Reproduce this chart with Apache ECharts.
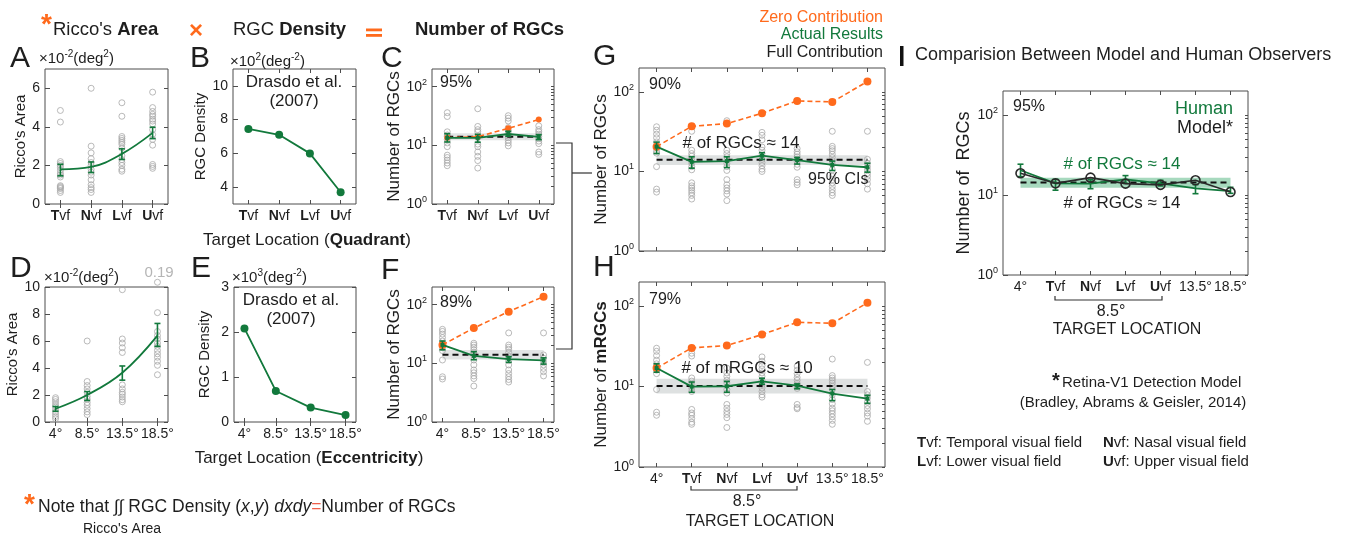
<!DOCTYPE html>
<html><head><meta charset="utf-8">
<script src="https://cdn.jsdelivr.net/npm/echarts@6/dist/echarts.min.js"></script>
<style>html,body{margin:0;padding:0;background:#fff;}#c{width:1354px;height:536px;}</style>
</head><body><div id="c"></div><script>
// ---------- categories / ticks ----------
const quadLabels = ['Tvf', 'Nvf', 'Lvf', 'Uvf'];
const quadX = [1, 2, 3, 4];
const eccX = [4, 8.5, 13.5, 18.5];
const locLabels = ['4°', 'Tvf', 'Nvf', 'Lvf', 'Uvf', '13.5°', '18.5°'];
const locX = [1, 2, 3, 4, 5, 6, 7];
const logMajor = [1, 10, 100];
const logMinor = [2, 3, 4, 5, 6, 7, 8, 9, 20, 30, 40, 50, 60, 70, 80, 90];

// ---------- Panel A: Ricco's area by quadrant ----------
const aMean = [1.8, 1.92, 2.6, 3.69];
const aLo = [1.46, 1.63, 2.31, 3.39];
const aHi = [2.06, 2.18, 2.86, 3.98];
const aPts = [
  [4.85, 4.25, 2.2, 2.1, 2.0, 1.9, 1.75, 1.6, 1.5, 1.4, 0.95, 0.9, 0.85, 0.8, 0.7, 0.6],
  [6.0, 3.0, 2.65, 2.35, 2.15, 2.0, 1.8, 1.65, 1.5, 1.25, 1.0, 0.85, 0.75, 0.6],
  [5.25, 4.55, 3.5, 3.4, 3.3, 3.2, 3.1, 2.9, 2.5, 2.3, 2.15, 2.0, 1.8, 1.7],
  [5.8, 5.0, 4.8, 4.65, 4.55, 4.4, 4.3, 4.15, 3.85, 3.6, 3.35, 3.05, 2.05, 1.95, 1.85]
];
// ---------- Panel B: RGC density by quadrant ----------
const bDensity = [7.45, 7.1, 6.0, 3.7];
// ---------- Panel C ----------
const cMean = [13.4, 13.4, 15.6, 13.9];
const cLo = [11.4, 11.3, 14.3, 12.5];
const cHi = [15.8, 15.4, 17.4, 15.2];
const cZero = [13.5, 14, 19.5, 27.5];
const cFull = 14;
const cBand = [12.2, 16];
const cPts = [
  [36, 31, 17, 15, 14, 12.5, 11, 9.5, 6.8, 6.2, 5.6, 5, 4.5],
  [42, 21, 18.5, 17, 13.5, 10.5, 9.5, 7.7, 6.5, 5.5, 4.1],
  [32, 29, 26, 20, 18, 16, 14.5, 13.5, 12.2, 11, 9.8],
  [21.5, 18.5, 17, 15.5, 14.2, 13, 11.8, 10.7, 7.7, 7]
];
// ---------- Panel D: Ricco's area by eccentricity ----------
const dMean = [0.98, 2.0, 3.65, 6.4];
const dLo = [0.8, 1.6, 3.1, 5.6];
const dHi = [1.15, 2.25, 4.15, 7.3];
const dPts = [
  [1.8, 1.67, 1.5, 1.3, 1.15, 0.95, 0.75, 0.57, 0.4, 0.25],
  [6.0, 3.0, 2.7, 2.45, 2.2, 1.9, 1.7, 1.45, 1.25, 1.0, 0.75, 0.55],
  [9.8, 6.15, 5.85, 5.5, 5.15, 2.75, 2.45, 2.2, 2.05, 1.85, 1.65, 1.5],
  [10.35, 8.1, 6.7, 6.4, 6.15, 5.85, 5.6, 5.3, 5.05, 4.8, 4.5, 4.2, 3.5]
];
// ---------- Panel E: RGC density by eccentricity ----------
const eDensity = [2.08, 0.69, 0.32, 0.155];
// ---------- Panel F ----------
const fMean = [20.6, 13.4, 11.8, 11.2];
const fLo = [17, 11.5, 10.4, 9.7];
const fHi = [24, 15.8, 13, 12.4];
const fZero = [20.6, 40, 76, 137];
const fFull = 14;
const fBand = [11.6, 16.8];
const fPts = [
  [38, 35, 31.5, 27.5, 24, 21, 18.5, 16.5, 11.4, 5.9, 5.4],
  [22, 20.5, 18.8, 17, 15.3, 13.7, 11.4, 9.4, 7.7, 6.9, 6.1, 5.5, 4.1],
  [33, 20.5, 18.8, 17.4, 15.3, 13.3, 11.1, 9.4, 7.7, 6.7, 5.9, 5.3, 4.8],
  [33, 13.9, 12.2, 10.7, 9.4, 8.2, 7.2, 6.1]
];
// ---------- Panel G ----------
const gMean = [20.5, 13.2, 13.5, 15.8, 13.9, 12.1, 11.3];
const gLo = [16.8, 11, 11.2, 14.2, 12.4, 10.3, 9.8];
const gHi = [23.4, 15.3, 15.3, 17.2, 15, 13.5, 12.7];
const gZero = [20.5, 37, 40, 54, 77, 75, 135];
const gFull = 14;
const gBand = [12.1, 16];
const gPts = [
  [36.5, 33, 29.5, 26.5, 23.5, 20.5, 18, 17, 11.5, 6, 5.5],
  [37, 32, 18.5, 16.8, 15.6, 13.9, 12.7, 11.5, 10.5, 7.2, 6.6, 6.2, 5.8, 5.4, 5, 4.5],
  [43.5, 40, 18.5, 16.8, 15.3, 13.9, 12.7, 11.5, 10.3, 7.9, 6.8, 6.2, 5.7, 5.2, 4.3],
  [31, 28.5, 25, 20.3, 18.5, 16.8, 15.3, 14.2, 12.9, 11.8, 10.7, 10],
  [19.4, 17.7, 16.5, 15.3, 14.2, 13.3, 12.3, 11.3, 7.9, 7.3, 6.8],
  [32, 20.7, 19.4, 18.2, 16.5, 15, 13.7, 12.4, 10.5, 8.7, 7.9, 7.2, 6.5, 5.9, 5.4, 5],
  [32, 14.2, 12.7, 11.5, 10.5, 9.5, 8.7, 7.9, 7, 6]
];
// ---------- Panel H ----------
const hMean = [17, 10, 10.1, 11.6, 10.3, 8.2, 7.1];
const hLo = [15.1, 8.5, 8.5, 10.7, 9.4, 6.7, 6.2];
const hHi = [19.2, 11.4, 11.6, 12.7, 10.8, 9.2, 7.8];
const hZero = [17, 30.3, 32.4, 44.4, 63, 61.4, 110];
const hFull = 10.2;
const hBand = [8.2, 12.5];
const hPts = [
  [30, 27.5, 24.3, 21.3, 19.2, 17.6, 16, 14.5, 9.2, 4.8, 4.4],
  [26, 24, 12.8, 11.7, 10.6, 9.6, 8.7, 5.2, 4.7, 4.4, 4, 3.6, 3.4],
  [17, 14.8, 13.4, 12, 11.1, 9.2, 8.3, 6, 5.4, 4.9, 4.5, 4.1, 3.1],
  [23.4, 20.7, 18.3, 16.6, 14.8, 13.4, 12, 10.6, 9.6, 8.7, 7.9, 7.4],
  [18, 16, 14.5, 13, 12, 11, 10.5, 10, 9.5, 6, 5.5, 5.3],
  [22, 13.7, 12.8, 12, 11.1, 10.1, 9.2, 7.9, 6.9, 6.1, 5.4, 5, 4.6, 4.2, 3.8, 3.4],
  [20, 8.7, 7.9, 7.2, 6.4, 5.8, 5.3, 4.7, 4.3, 3.7]
];
// ---------- Panel I ----------
const iHuman = [20.4, 14, 13.9, 15.7, 14, 12.1, 11.2];
const iHumanLo = [17, 11.5, 12, 14, 13, 10.4, 10.5];
const iHumanHi = [24.3, 15.7, 15.5, 17.5, 15.3, 13.5, 12.5];
const iModel = [18.7, 14, 16.5, 13.9, 13.4, 15.3, 10.9];
const iFull = 14.3;
const iBand = [12.3, 16.5];

// ---------- styling ----------
const FONT = '"Liberation Sans", Arial, Helvetica, sans-serif';
const TXT = '#1e1e1e', AX = '#4d4d4d', GREEN = '#12793c', ORANGE = '#ff6a1c', PT = '#a9a9a9';

function axisRich(size) {
  return {
    b: {fontSize: size, fontFamily: FONT, fontWeight: 'bold', color: TXT},
    s: {fontSize: Math.round(size * 0.65), fontFamily: FONT, color: TXT, verticalAlign: 'top'}
  };
}
function gRich(size, color) {
  const sub = Math.round(size * 0.65);
  return {
    b: {fontSize: size, fontFamily: FONT, fontWeight: 'bold', fill: color},
    s: {fontSize: sub, fontFamily: FONT, fill: color, verticalAlign: 'top'},
    i: {fontSize: size, fontFamily: FONT, fontStyle: 'italic', fill: color},
    r: {fontSize: size, fontFamily: FONT, fill: '#f0604a'},
    k: {fontSize: Math.round(size * 0.8), fontFamily: FONT, fill: color}
  };
}
const boldFirst = s => /vf$/.test(s) ? '{b|' + s[0] + '}' + s.slice(1) : s;
const catFmt = labels => v => { const l = labels[Math.round(v) - 1]; return l ? boldFirst(l) : ''; };
const degFmt = v => v + '°';
const logFmt = v => '10{s|' + Math.round(Math.log10(v)) + '}';

const grids = [], xAxes = [], yAxes = [], series = [];

function panel(p) {
  const gi = grids.length;
  grids.push({left: p.box[0], top: p.box[1], width: p.box[2], height: p.box[3], show: true,
    borderColor: AX, borderWidth: 1, backgroundColor: 'rgba(0,0,0,0)'});
  const xb = {gridIndex: gi, type: 'value', min: p.x[0], max: p.x[1], axisLine: {show: false}, splitLine: {show: false}};
  xAxes.push(Object.assign({}, xb, {position: 'bottom',
    axisTick: {show: true, inside: true, length: 4, lineStyle: {color: AX}, customValues: p.xt},
    axisLabel: {show: !p.noXLabel, customValues: p.xt, formatter: p.xf, fontSize: 14, fontFamily: FONT,
      color: TXT, margin: 5, rich: axisRich(14)}}));
  xAxes.push(Object.assign({}, xb, {position: 'top',
    axisTick: {show: true, inside: true, length: 4, lineStyle: {color: AX}, customValues: p.xt},
    axisLabel: {show: false}}));
  const yb = {gridIndex: gi, type: p.log ? 'log' : 'value', min: p.y[0], max: p.y[1],
    axisLine: {show: false}, splitLine: {show: false}};
  if (p.log) yb.logBase = 10;
  const ns = p.nameSize || 15;
  yAxes.push(Object.assign({}, yb, {position: 'left', name: p.name, nameLocation: 'middle', nameGap: p.gap,
    nameRotate: 90,
    nameTextStyle: {fontSize: ns, fontFamily: FONT, color: TXT,
      rich: {b: {fontSize: ns, fontFamily: FONT, fontWeight: 'bold', color: TXT}}},
    axisTick: {show: true, inside: true, length: 5, lineStyle: {color: AX}, customValues: p.log ? logMajor : p.yt},
    axisLabel: {customValues: p.log ? logMajor : p.yt, formatter: p.log ? logFmt : undefined, fontSize: 14,
      fontFamily: FONT, color: TXT, margin: 5, lineHeight: p.log ? 18 : undefined, rich: axisRich(14)}}));
  yAxes.push(Object.assign({}, yb, {position: 'right',
    axisTick: {show: true, inside: true, length: p.log ? 3 : 4, lineStyle: {color: AX},
      customValues: p.log ? logMajor.concat(logMinor) : p.yt},
    axisLabel: {show: false}}));
  return gi * 2;
}

function sc(ax, xs, cols) {
  series.push({type: 'scatter', xAxisIndex: ax, yAxisIndex: ax, symbol: 'circle', symbolSize: 6, clip: false,
    silent: true, z: 2, itemStyle: {color: 'rgba(255,255,255,0)', borderColor: PT, borderWidth: 1},
    data: cols.flatMap((c, i) => c.map(v => [xs[i], v]))});
}
function ln(ax, xs, ys, o) {
  series.push({type: 'line', xAxisIndex: ax, yAxisIndex: ax, silent: true, z: o.z || 4, smooth: o.smooth || false,
    symbol: o.symbol || 'none', symbolSize: o.size || 6, showSymbol: !!o.symbol, clip: false,
    itemStyle: {color: o.fill || o.color, borderColor: o.color, borderWidth: o.bw || 0},
    lineStyle: {color: o.color, width: o.width || 1.6, type: o.dash || 'solid'},
    data: xs.map((x, i) => [x, ys[i]])});
}
function eb(ax, xs, lo, hi, color) {
  series.push({type: 'custom', xAxisIndex: ax, yAxisIndex: ax, silent: true, z: 6, clip: false,
    data: xs.map((x, i) => [x, lo[i], hi[i]]), encode: {x: 0, y: [1, 2]},
    renderItem: (params, api) => {
      const a = api.coord([api.value(0), api.value(1)]);
      const b = api.coord([api.value(0), api.value(2)]);
      const w = 3, st = {stroke: color, lineWidth: 1.6};
      return {type: 'group', children: [
        {type: 'line', shape: {x1: a[0], y1: a[1], x2: b[0], y2: b[1]}, style: st},
        {type: 'line', shape: {x1: a[0] - w, y1: a[1], x2: a[0] + w, y2: a[1]}, style: st},
        {type: 'line', shape: {x1: b[0] - w, y1: b[1], x2: b[0] + w, y2: b[1]}, style: st}]};
    }});
}
function band(ax, x0, x1, range, color) {
  series.push({type: 'custom', xAxisIndex: ax, yAxisIndex: ax, silent: true, z: 1,
    data: [[x0, x1, range[0], range[1]]], encode: {x: [0, 1], y: [2, 3]},
    renderItem: (params, api) => {
      const p1 = api.coord([api.value(0), api.value(3)]);
      const p2 = api.coord([api.value(1), api.value(2)]);
      return {type: 'rect', shape: {x: p1[0], y: p1[1], width: p2[0] - p1[0], height: p2[1] - p1[1]},
        style: {fill: color}};
    }});
}
function flat(ax, xs, v) {
  ln(ax, [xs[0], xs[xs.length - 1]], [v, v], {color: '#111', width: 2, dash: [6, 4], z: 3});
}

// ---------- panels ----------
const A = panel({box: [45, 69, 123, 135], x: [0.5, 4.5], xt: quadX, xf: catFmt(quadLabels), y: [0, 7], yt: [0, 2, 4, 6], name: "Ricco's Area", gap: 17, nameSize: 15});
sc(A, quadX, aPts);
ln(A, quadX, aMean, {color: GREEN, smooth: 0.4, width: 1.8});
eb(A, quadX, aLo, aHi, GREEN);

const B = panel({box: [233, 69, 123, 135], x: [0.5, 4.5], xt: quadX, xf: catFmt(quadLabels), y: [3, 11], yt: [4, 6, 8, 10], name: 'RGC Density', gap: 22, nameSize: 15});
ln(B, quadX, bDensity, {color: GREEN, symbol: 'circle', size: 8, width: 1.8});

const C = panel({box: [432, 69, 122, 135], x: [0.5, 4.5], xt: quadX, xf: catFmt(quadLabels), log: true, y: [1, 200], name: 'Number of RGCs', gap: 25, nameSize: 17});
band(C, quadX[0], quadX[3], cBand, 'rgba(190,196,196,0.45)');
sc(C, quadX, cPts);
flat(C, quadX, cFull);
ln(C, quadX, cZero, {color: ORANGE, symbol: 'circle', size: 6, dash: [5, 3], width: 1.6, z: 4});
ln(C, quadX, cMean, {color: GREEN, symbol: 'rect', size: 4, width: 1.8, z: 5});
eb(C, quadX, cLo, cHi, GREEN);

const D = panel({box: [45, 287, 123, 135], x: [2.5, 20], xt: eccX, xf: degFmt, y: [0, 10], yt: [0, 2, 4, 6, 8, 10], name: "Ricco's Area", gap: 17, nameSize: 15});
sc(D, eccX, dPts);
ln(D, eccX, dMean, {color: GREEN, smooth: 0.4, width: 1.8});
eb(D, eccX, dLo, dHi, GREEN);

const E = panel({box: [234, 287, 122, 135], x: [2.5, 20], xt: eccX, xf: degFmt, y: [0, 3], yt: [0, 1, 2, 3], name: 'RGC Density', gap: 22, nameSize: 15});
ln(E, eccX, eDensity, {color: GREEN, symbol: 'circle', size: 8, width: 1.8});

const F = panel({box: [432, 287, 122, 135], x: [2.5, 20], xt: eccX, xf: degFmt, log: true, y: [1, 200], name: 'Number of RGCs', gap: 25, nameSize: 17});
band(F, eccX[0], eccX[3], fBand, 'rgba(190,196,196,0.45)');
sc(F, eccX, fPts);
flat(F, eccX, fFull);
ln(F, eccX, fZero, {color: ORANGE, symbol: 'circle', size: 8, dash: [5, 3], width: 1.6});
ln(F, eccX, fMean, {color: GREEN, symbol: 'rect', size: 4, width: 1.8, z: 5});
eb(F, eccX, fLo, fHi, GREEN);

const G = panel({box: [639, 68, 246, 183], x: [0.5, 7.5], xt: locX, xf: catFmt(locLabels), noXLabel: true, log: true, y: [1, 200], name: 'Number of RGCs', gap: 27, nameSize: 17});
band(G, locX[0], locX[6], gBand, 'rgba(190,196,196,0.5)');
sc(G, locX, gPts);
flat(G, locX, gFull);
ln(G, locX, gZero, {color: ORANGE, symbol: 'circle', size: 8, dash: [5, 3], width: 1.6});
ln(G, locX, gMean, {color: GREEN, symbol: 'rect', size: 4, width: 1.8, z: 5});
eb(G, locX, gLo, gHi, GREEN);

const H = panel({box: [639, 282, 246, 185], x: [0.5, 7.5], xt: locX, xf: catFmt(locLabels), log: true, y: [1, 200], name: 'Number of {b|mRGCs}', gap: 25, nameSize: 17});
band(H, locX[0], locX[6], hBand, 'rgba(190,196,196,0.5)');
sc(H, locX, hPts);
flat(H, locX, hFull);
ln(H, locX, hZero, {color: ORANGE, symbol: 'circle', size: 8, dash: [5, 3], width: 1.6});
ln(H, locX, hMean, {color: GREEN, symbol: 'rect', size: 4, width: 1.8, z: 5});
eb(H, locX, hLo, hHi, GREEN);

const I = panel({box: [1003, 91, 245, 184], x: [0.5, 7.5], xt: locX, xf: catFmt(locLabels), log: true, y: [1, 200], name: 'Number of  RGCs', gap: 30, nameSize: 18});
band(I, locX[0], locX[6], iBand, 'rgba(60,170,110,0.45)');
flat(I, locX, iFull);
ln(I, locX, iHuman, {color: GREEN, width: 1.8, z: 5});
eb(I, locX, iHumanLo, iHumanHi, GREEN);
ln(I, locX, iModel, {color: '#2a2a2a', symbol: 'circle', size: 9, fill: 'rgba(0,0,0,0)', bw: 1.6, width: 1.6, z: 7});

// ---------- annotations ----------
function txt(x, y, text, size, o) {
  o = o || {};
  const color = o.color || TXT;
  const st = {text: text, fill: color, fontSize: size, fontFamily: FONT, fontWeight: o.bold ? 'bold' : 'normal',
    align: o.align || 'left', textAlign: o.align || 'left', verticalAlign: 'middle', textVerticalAlign: 'middle',
    rich: gRich(size, color)};
  if (o.lh) st.lineHeight = o.lh;
  return {type: 'text', x: x, y: y, z: 50, silent: true, style: st};
}
function pl(points, w) {
  return {type: 'polyline', silent: true, z: 50, shape: {points: points}, style: {stroke: '#333', lineWidth: w || 1.2, fill: null}};
}
const graphics = [
  // header
  txt(41, 25, '*', 28, {color: ORANGE, bold: true}),
  txt(53, 30, "Ricco's {b|Area}", 18.5),
  txt(196, 31, '×', 24, {color: ORANGE, bold: true, align: 'center'}),
  txt(233, 30, 'RGC {b|Density}', 18.5),
  {type: 'rect', silent: true, shape: {x: 366, y: 28.5, width: 16, height: 2.8}, style: {fill: ORANGE}},
  {type: 'rect', silent: true, shape: {x: 366, y: 34, width: 16, height: 2.8}, style: {fill: ORANGE}},
  txt(415, 30, 'Number of RGCs', 18.5, {bold: true}),
  // panel letters
  txt(10, 59, 'A', 30), txt(190, 59, 'B', 30), txt(381, 59, 'C', 30),
  txt(10, 269, 'D', 30), txt(191, 269, 'E', 30), txt(381, 271, 'F', 30),
  txt(593, 57, 'G', 30), txt(593, 268, 'H', 30),
  // units
  txt(39, 59, '×10{s|-2}(deg{s|2})', 15, {lh: 20}),
  txt(230, 62, '×10{s|2}(deg{s|-2})', 15, {lh: 20}),
  txt(44, 278, '×10{s|-2}(deg{s|2})', 15, {lh: 20}),
  txt(232, 278, '×10{s|3}(deg{s|-2})', 15, {lh: 20}),
  txt(159, 273, '0.19', 15, {color: '#b5b5b5', align: 'center'}),
  // panel B/E sources
  txt(294, 82, 'Drasdo et al.', 17, {align: 'center'}), txt(294, 101, '(2007)', 17, {align: 'center'}),
  txt(291, 300, 'Drasdo et al.', 17, {align: 'center'}), txt(291, 319, '(2007)', 17, {align: 'center'}),
  // x titles
  txt(307, 240, 'Target Location ({b|Quadrant})', 17, {align: 'center'}),
  txt(309, 458, 'Target Location ({b|Eccentricity})', 17, {align: 'center'}),
  // percents
  txt(440, 83, '95%', 16), txt(440, 303, '89%', 16), txt(649, 85, '90%', 16), txt(649, 300, '79%', 16),
  txt(1013, 107, '95%', 16),
  // G legend
  txt(883, 18, 'Zero Contribution', 16, {color: ORANGE, align: 'right'}),
  txt(883, 35, 'Actual Results', 16, {color: GREEN, align: 'right'}),
  txt(883, 53, 'Full Contribution', 16, {align: 'right'}),
  txt(741, 143, '# of RGCs ≈ 14', 17, {align: 'center'}),
  txt(808, 180, '95% CIs', 16),
  txt(747, 368, '# of mRGCs ≈ 10', 17, {align: 'center'}),
  // connectors
  pl([[556, 143], [572, 143], [572, 349], [556, 349]]),
  pl([[572, 173], [592, 173]]),
  // H bracket
  pl([[691, 486], [691, 490], [797, 490], [797, 486]]),
  txt(747, 502, '8.5°', 16, {align: 'center'}),
  txt(760, 522, 'TARGET LOCATION', 16, {align: 'center'}),
  // I panel
  {type: 'rect', silent: true, shape: {x: 900, y: 46, width: 3.5, height: 20}, style: {fill: '#111'}},
  txt(915, 55, 'Comparision Between Model and Human Observers', 18),
  txt(1233, 109, 'Human', 18, {color: GREEN, align: 'right'}),
  txt(1233, 128, 'Model*', 18, {align: 'right'}),
  txt(1122, 164, '# of RGCs ≈ 14', 17, {color: GREEN, align: 'center'}),
  txt(1122, 203, '# of RGCs ≈ 14', 17, {align: 'center'}),
  pl([[1055, 296], [1055, 300], [1162, 300], [1162, 296]]),
  txt(1111, 312, '8.5°', 16, {align: 'center'}),
  txt(1127, 330, 'TARGET LOCATION', 16, {align: 'center'}),
  // model reference
  txt(1052, 381, '*', 20, {bold: true}),
  txt(1062, 383, 'Retina-V1 Detection Model', 15),
  txt(1133, 403, '(Bradley, Abrams & Geisler, 2014)', 15, {align: 'center'}),
  txt(917, 443, '{b|T}vf: Temporal visual field', 15),
  txt(1103, 443, '{b|N}vf: Nasal visual field', 15),
  txt(917, 462, '{b|L}vf: Lower visual field', 15),
  txt(1103, 462, '{b|U}vf: Upper visual field', 15),
  // bottom note
  txt(24, 505, '*', 28, {color: ORANGE, bold: true}),
  txt(38, 507, 'Note that ∫∫ RGC Density ({i|x},{i|y}) {i|dxdy}{r|=}Number of RGCs', 17.5),
  txt(83, 529, "Ricco's Area", 14)
];

const chart = echarts.init(document.getElementById('c'));
chart.setOption({
  animation: false,
  backgroundColor: '#fff',
  textStyle: {fontFamily: FONT},
  grid: grids, xAxis: xAxes, yAxis: yAxes, series: series,
  graphic: {elements: graphics}
});
</script></body></html>
